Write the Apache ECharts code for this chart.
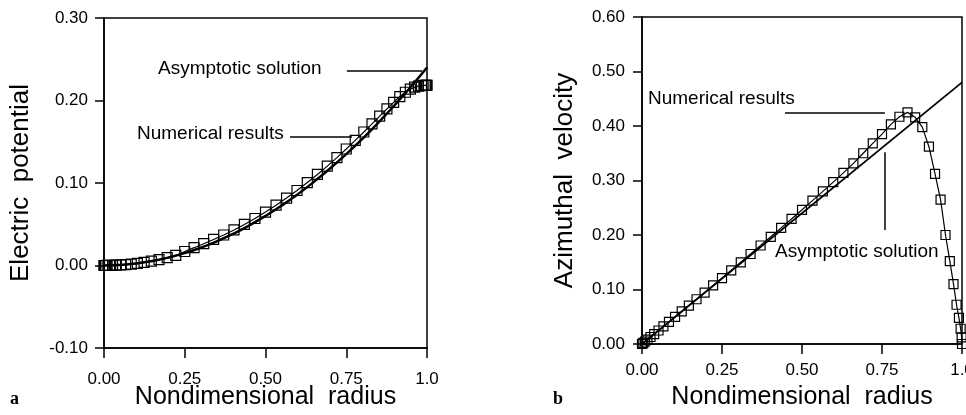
<!DOCTYPE html>
<html>
<head>
<meta charset="utf-8">
<script src="https://cdn.jsdelivr.net/npm/echarts@6/dist/echarts.min.js"></script>
<style>
html, body { margin: 0; padding: 0; background: #fff; }
#main { width: 966px; height: 415px; }
</style>
</head>
<body>
<div id="main"></div>
<script>
// radial stations of the numerical solution (denser near the ends)
var radiusNum = [0, 0.00107, 0.00428, 0.00961, 0.01704, 0.02653, 0.03806, 0.05157, 0.06699, 0.08427,
  0.10332, 0.12408, 0.14645, 0.17033, 0.19562, 0.22221, 0.25, 0.27886, 0.30866, 0.33928,
  0.37059, 0.40245, 0.43474, 0.4673, 0.5, 0.5327, 0.56526, 0.59755, 0.62941, 0.66072,
  0.69134, 0.72114, 0.75, 0.77779, 0.80438, 0.82967, 0.85355, 0.87592, 0.89668, 0.91573,
  0.93301, 0.94843, 0.96194, 0.97347, 0.98296, 0.99039, 0.99572, 0.99893, 1];

// panel a: electric potential
var potentialNum = [0, 0, 0, 0.0001, 0.0001, 0.0002, 0.0004, 0.0007, 0.0011, 0.0017,
  0.0026, 0.0038, 0.0053, 0.0072, 0.0095, 0.0122, 0.017, 0.0216, 0.0264, 0.0316,
  0.037, 0.0431, 0.0498, 0.057, 0.0648, 0.0731, 0.0817, 0.0909, 0.1005, 0.1104,
  0.1205, 0.1308, 0.1412, 0.1516, 0.1618, 0.1717, 0.1811, 0.1898, 0.1978, 0.2048,
  0.21, 0.2138, 0.2162, 0.2175, 0.2181, 0.2184, 0.2185, 0.2185, 0.2185];
var radiusAsym = [0, 0.05, 0.1, 0.15, 0.2, 0.25, 0.3, 0.35, 0.4, 0.45, 0.5,
  0.55, 0.6, 0.65, 0.7, 0.75, 0.8, 0.85, 0.9, 0.95, 1];
var potentialAsym = [0, 0.0006, 0.0024, 0.0054, 0.0096, 0.015, 0.0216, 0.0294, 0.0384, 0.0486, 0.06,
  0.0726, 0.0864, 0.1014, 0.1176, 0.135, 0.1536, 0.1734, 0.1944, 0.2166, 0.24];

// panel b: azimuthal velocity
var velocityNum = [0, 0.0005, 0.0021, 0.0046, 0.0082, 0.0128, 0.0183, 0.0248, 0.0322, 0.0405,
  0.0497, 0.0597, 0.0705, 0.0821, 0.0944, 0.1074, 0.121, 0.1352, 0.1499, 0.1651,
  0.1807, 0.1967, 0.213, 0.2295, 0.2462, 0.2631, 0.28, 0.297, 0.314, 0.3315,
  0.35, 0.368, 0.385, 0.403, 0.417, 0.425, 0.416, 0.398, 0.362, 0.312,
  0.265, 0.2, 0.152, 0.11, 0.072, 0.048, 0.028, 0.012, 0];
var radiusLin = [0, 1];
var velocityAsym = [0, 0.48];

var xTicks = ['0.00', '0.25', '0.50', '0.75', '1.0'];

function pairs(xs, ys) {
  return xs.map(function (x, i) { return [x, ys[i]]; });
}

var font = "'Liberation Sans', Arial, sans-serif";
var chart = echarts.init(document.getElementById('main'), null, {renderer: 'canvas'});

function xAxisOf(grid, labelMargin, gap) {
  return {
    type: 'value', gridIndex: grid, min: 0, max: 1, interval: 0.25,
    name: 'Nondimensional  radius', nameLocation: 'middle', nameGap: gap, nameMoveOverlap: false,
    nameTextStyle: {fontFamily: font, fontSize: 25, color: '#000'},
    axisLine: {onZero: false, lineStyle: {color: '#000', width: 1.5}},
    axisTick: {inside: false, length: 10, lineStyle: {color: '#000', width: 1.5}},
    axisLabel: {margin: labelMargin, fontFamily: font, fontSize: 17, color: '#000',
      formatter: function (v) { return xTicks[Math.round(v / 0.25)]; }},
    splitLine: {show: false}
  };
}

function yAxisOf(grid, min, max, title, gap, labelMargin) {
  return {
    type: 'value', gridIndex: grid, min: min, max: max, interval: 0.1,
    name: title, nameLocation: 'middle', nameRotate: 90, nameGap: gap, nameMoveOverlap: false,
    nameTextStyle: {fontFamily: font, fontSize: 26, color: '#000'},
    axisLine: {onZero: false, lineStyle: {color: '#000', width: 1.5}},
    axisTick: {inside: false, length: 9, lineStyle: {color: '#000', width: 1.5}},
    axisLabel: {margin: labelMargin, fontFamily: font, fontSize: 17, color: '#000',
      formatter: function (v) { return v.toFixed(2); }},
    splitLine: {show: false}
  };
}

var squares = {
  type: 'line', symbol: 'rect', showAllSymbol: true,
  itemStyle: {color: 'rgba(0,0,0,0)', borderColor: '#000', borderWidth: 1.2},
  lineStyle: {color: '#000', width: 1.2},
  silent: true
};

function leader(a, b) {
  return {
    silent: true, symbol: ['none', 'none'], label: {show: false},
    lineStyle: {color: '#000', width: 1.5, type: 'solid'},
    data: [[{coord: a}, {coord: b}]]
  };
}

function note(text, left, top) {
  return {type: 'text', left: left, top: top,
    style: {text: text, fontFamily: font, fontSize: 19, fill: '#000'}};
}

var option = {
  animation: false,
  backgroundColor: '#fff',
  grid: [
    {left: 104, top: 18, width: 323, height: 330, outerBoundsMode: 'none',
      show: true, borderColor: '#000', borderWidth: 1.5},
    {left: 642, top: 17, width: 320, height: 327, outerBoundsMode: 'none',
      show: true, borderColor: '#000', borderWidth: 1.5}
  ],
  xAxis: [xAxisOf(0, 23, 37), xAxisOf(1, 18, 41)],
  yAxis: [
    yAxisOf(0, -0.1, 0.3, 'Electric  potential', 70, 16),
    yAxisOf(1, 0, 0.6, 'Azimuthal  velocity', 64, 17)
  ],
  series: [
    Object.assign({}, squares, {name: 'Numerical results', xAxisIndex: 0, yAxisIndex: 0,
      symbolSize: 10, data: pairs(radiusNum, potentialNum),
      markLine: leader([0.576, 0.156], [0.768, 0.156])}),
    {name: 'Asymptotic solution', type: 'line', xAxisIndex: 0, yAxisIndex: 0, smooth: true,
      symbol: 'none', silent: true, lineStyle: {color: '#000', width: 2.5},
      data: pairs(radiusAsym, potentialAsym),
      markLine: leader([0.752, 0.236], [0.985, 0.236])},
    Object.assign({}, squares, {name: 'Numerical results', xAxisIndex: 1, yAxisIndex: 1,
      symbolSize: 9, data: pairs(radiusNum, velocityNum),
      markLine: leader([0.447, 0.424], [0.759, 0.424])}),
    {name: 'Asymptotic solution', type: 'line', xAxisIndex: 1, yAxisIndex: 1,
      symbol: 'none', silent: true, lineStyle: {color: '#000', width: 1.8},
      data: pairs(radiusLin, velocityAsym),
      markLine: leader([0.759, 0.352], [0.759, 0.209])}
  ],
  graphic: [
    note('Asymptotic solution', 158, 59),
    note('Numerical results', 137, 124),
    note('Numerical results', 648, 89),
    note('Asymptotic solution', 775, 242),
    {type: 'text', left: 10, top: 390,
      style: {text: 'a', fontFamily: "'Liberation Serif', serif", fontSize: 18, fontWeight: 'bold', fill: '#000'}},
    {type: 'text', left: 553, top: 390,
      style: {text: 'b', fontFamily: "'Liberation Serif', serif", fontSize: 18, fontWeight: 'bold', fill: '#000'}}
  ]
};
chart.setOption(option);
</script>
</body>
</html>
